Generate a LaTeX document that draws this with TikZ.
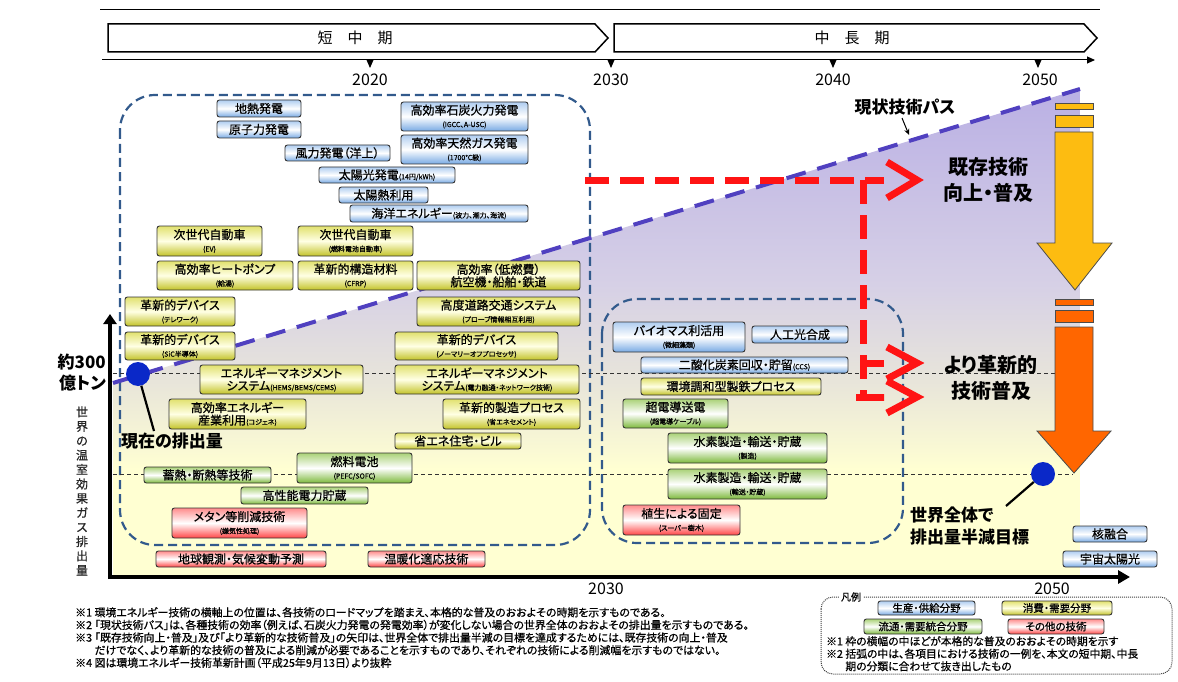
\documentclass[tikz,border=0pt]{standalone}
\usepackage{fontspec}
\setmainfont{Noto Sans CJK JP}[RawFeature=+palt]
\newfontfamily\boxfont{Noto Sans CJK JP}[RawFeature=+palt, FakeBold=0.7]
\usetikzlibrary{arrows.meta,calc}

\definecolor{rectblue}{RGB}{50,90,140}
\definecolor{pathpurple}{RGB}{80,64,192}
\definecolor{dotblue}{RGB}{10,40,200}
\definecolor{redarr}{RGB}{255,20,20}
\definecolor{yelarr}{RGB}{253,188,17}
\definecolor{orgarr}{RGB}{255,102,0}
\definecolor{cbT}{RGB}{175,205,240}
\definecolor{cbB}{RGB}{120,170,228}
\definecolor{cyT}{RGB}{225,225,110}
\definecolor{cyM}{RGB}{255,255,228}
\definecolor{cyB}{RGB}{195,195,40}
\definecolor{cgT}{RGB}{170,210,120}
\definecolor{cgB}{RGB}{125,185,60}
\definecolor{crT}{RGB}{255,140,140}
\definecolor{crB}{RGB}{255,70,70}
\definecolor{bgP}{RGB}{186,176,228}
\definecolor{bgL}{RGB}{214,208,230}
\definecolor{bgM}{RGB}{232,229,218}
\definecolor{bgY}{RGB}{255,255,210}

\pgfdeclareverticalshading{bgsh}{100bp}{color(0bp)=(bgY); color(25bp)=(bgY); color(36bp)=(bgY); color(45bp)=(bgM); color(55bp)=(bgL); color(75bp)=(bgP); color(100bp)=(bgP)}

\newcommand\subt[1]{{\fontsize{7}{7.5}\selectfont #1}}
\newcommand\techbox[7]{\node[#1, minimum width={#5-#3}, minimum height={#6-#4}] (#2) at ({(#3+#5)/2},{(#4+#6)/2}) {#7};}

\begin{document}
\begin{tikzpicture}[x=1pt,y=-1pt,
 bxbase/.style={draw=black!80, line width=0.9, rounded corners=2.5, inner sep=0pt, align=center, font=\boxfont\fontsize{12}{12.5}\selectfont},
 bxb/.style={bxbase, top color=cbT, bottom color=cbB, middle color=white},
 bxy/.style={bxbase, top color=cyT, bottom color=cyB, middle color=cyM},
 bxg/.style={bxbase, top color=cgT, bottom color=cgB, middle color=white},
 bxr/.style={bxbase, top color=crT, bottom color=crB, middle color=white},
 lgb/.style={font=\boxfont\fontsize{10.5}{11}\selectfont},
 dashrect/.style={draw=rectblue, line width=2.2, dash pattern=on 9 off 5, rounded corners=35},
 dashln/.style={draw=black!80, line width=1, dash pattern=on 4 off 3},
 reddash/.style={draw=redarr, line width=7, dash pattern=on 24 off 11},
 redchev/.style={draw=redarr, line width=7, line join=miter, miter limit=20},
 bigarr/.style={draw=black!70, line width=0.8},
 dotn/.style={circle, fill=dotblue, inner sep=0pt, minimum size=24},
 biglbl/.style={font=\bfseries\fontsize{20}{26}\selectfont, align=center},
 midlbl/.style={font=\bfseries\fontsize{17}{22}\selectfont},
 yearlbl/.style={font=\fontsize{16}{18}\selectfont},
 fnote/.style={font=\boxfont\fontsize{10.9}{12.6}\selectfont, align=left, inner sep=0pt},
]
\useasboundingbox (0,0) rectangle (1178,682);

% ---------- header ----------
\draw[line width=1] (100,10) -- (1100,10);
\draw[line width=1.5, fill=white] (108,24) -- (595,24) -- (608,38) -- (595,52) -- (108,52) -- cycle;
\draw[line width=1.5, fill=white] (614,24) -- (1084,24) -- (1097,38) -- (1084,52) -- (614,52) -- cycle;
\node[font=\fontsize{15}{16}\selectfont] (hshort) at (355,38) {短　中　期};
\node[font=\fontsize{15}{16}\selectfont] (hlong) at (852,38) {中　長　期};
\draw[line width=1, -{Triangle[length=8,width=7]}] (102,60) -- (1095,60);
\foreach \t in {370,611,833,1038} \fill (\t-3.5,60) -- (\t+3.5,60) -- (\t,68) -- cycle;
\node[yearlbl] (y2020) at (370,80) {2020};
\node[yearlbl] (y2030) at (611,80) {2030};
\node[yearlbl] (y2040) at (833,80) {2040};
\node[yearlbl] (y2050) at (1040,80) {2050};

% ---------- background ----------
\shade[shading=bgsh] (113,383) -- (1080,89) -- (1080,577) -- (113,577) -- cycle;

\draw[dashrect] (120,95) rectangle (590,545);
\draw[dashrect] (602,299) rectangle (903,543);

\draw[dashln] (113,373) -- (1055,373);
\draw[dashln] (113,474) -- (1073,474);

% current technology path
\draw[pathpurple, line width=4, dash pattern=on 20 off 12] (113,383) -- (1080,89);

% ---------- technology boxes ----------
\techbox{bxb}{geo}{217}{100}{301}{117}{地熱発電}
\techbox{bxb}{nuc}{217}{121}{301}{138}{原子力発電}
\techbox{bxb}{coal}{401}{102}{528}{131}{高効率石炭火力発電\\\subt{(IGCC、A-USC)}}
\techbox{bxb}{gas}{401}{135}{528}{164}{高効率天然ガス発電\\\subt{(1700℃級)}}
\techbox{bxb}{wind}{285}{145}{390}{161}{風力発電（洋上）}
\techbox{bxb}{pv}{319}{167}{455}{183}{太陽光発電\subt{(14円/kWh)}}
\techbox{bxb}{sth}{339}{187}{428}{203}{太陽熱利用}
\techbox{bxb}{ocean}{350}{205}{528}{222}{海洋エネルギー\subt{(波力、潮力、海流)}}

\techbox{bxy}{ev}{157}{226}{262}{256}{次世代自動車\\\subt{(EV)}}
\techbox{bxy}{fcv}{298}{226}{413}{256}{次世代自動車\\\subt{(燃料電池自動車)}}
\techbox{bxy}{hp}{157}{261}{293}{290}{高効率ヒートポンプ\\\subt{(給湯)}}
\techbox{bxy}{cfrp}{298}{261}{413}{290}{革新的構造材料\\\subt{(CFRP)}}
\techbox{bxy}{trans}{417}{261}{580}{290}{高効率（低燃費）\\航空機・船舶・鉄道}
\techbox{bxy}{tele}{125}{297}{235}{326}{革新的デバイス\\\subt{(テレワーク)}}
\techbox{bxy}{its}{417}{297}{580}{326}{高度道路交通システム\\\subt{(プローブ情報相互利用)}}
\techbox{bxy}{sic}{125}{332}{235}{360}{革新的デバイス\\\subt{(SiC半導体)}}
\techbox{bxy}{nop}{395}{332}{558}{360}{革新的デバイス\\\subt{(ノーマリーオフプロセッサ)}}
\techbox{bxy}{ems1}{200}{365}{363}{394}{エネルギーマネジメント\\システム\subt{(HEMS/BEMS/CEMS)}}
\techbox{bxy}{ems2}{395}{365}{579}{394}{エネルギーマネジメント\\システム\subt{(電力融通・ネットワーク技術)}}
\techbox{bxy}{cogen}{169}{399}{306}{429}{高効率エネルギー\\産業利用\subt{(コジェネ)}}
\techbox{bxy}{mfg}{443}{399}{580}{429}{革新的製造プロセス\\\subt{(省エネセメント)}}
\techbox{bxy}{house}{395}{433}{521}{449}{省エネ住宅・ビル}

\techbox{bxg}{fc}{297}{453}{412}{483}{燃料電池\\\subt{(PEFC/SOFC)}}
\techbox{bxg}{heat}{144}{467}{271}{483}{蓄熱・断熱等技術}
\techbox{bxg}{stor}{241}{487}{368}{504}{高性能電力貯蔵}

\techbox{bxr}{meth}{172}{508}{307}{538}{メタン等削減技術\\\subt{(嫌気性処理)}}
\techbox{bxr}{obs}{156}{551}{326}{567}{地球観測・気候変動予測}
\techbox{bxr}{adapt}{368}{551}{485}{567}{温暖化適応技術}

\techbox{bxb}{bio}{613}{322}{745}{352}{バイオマス利活用\\\subt{(微細藻類)}}
\techbox{bxb}{art}{752}{326}{848}{343}{人工光合成}
\techbox{bxb}{ccs}{641}{357}{848}{373}{二酸化炭素回収・貯留\subt{(CCS)}}
\techbox{bxy}{steel}{641}{378}{821}{395}{環境調和型製鉄プロセス}
\techbox{bxg}{sc}{623}{399}{728}{428}{超電導送電\\\subt{(超電導ケーブル)}}
\techbox{bxg}{h2a}{668}{433}{827}{463}{水素製造・輸送・貯蔵\\\subt{(製造)}}
\techbox{bxg}{h2b}{668}{469}{827}{499}{水素製造・輸送・貯蔵\\\subt{(輸送・貯蔵)}}
\techbox{bxr}{veg}{623}{505}{740}{535}{植生による固定\\\subt{(スーパー樹木)}}

\techbox{bxb}{fus}{1073}{526}{1147}{542}{核融合}
\techbox{bxb}{sps}{1063}{551}{1157}{567}{宇宙太陽光}

% ---------- red dashed arrows ----------
\coordinate (rA) at (585,180);
\coordinate (rB) at (884,180);
\coordinate (rV1) at (863,180);
\coordinate (rV2) at (863,397);
\coordinate (rC) at (884,363);
\coordinate (rD) at (856,397);
\coordinate (rE) at (884,397);
\draw[reddash] (rA) -- (rB);
\draw[reddash] (rV1) -- (rV2);
\draw[reddash, dash pattern=on 22 off 0] (rV1 |- rC) -- (rC);
\draw[reddash, dash pattern=on 28 off 0] (rD) -- (rE);
\draw[redchev] (887,162) -- (917,180) -- (887,198);
\draw[redchev] (887,347) -- (917,363) -- (887,379);
\draw[redchev] (887,381) -- (917,397) -- (887,413);

% ---------- big arrows ----------
\filldraw[bigarr, fill=yelarr] (1055,103) rectangle (1093,109);
\filldraw[bigarr, fill=yelarr] (1055,115) rectangle (1093,127);
\filldraw[bigarr, fill=yelarr] (1055,132) -- (1093,132) -- (1093,243) -- (1112,243) -- (1075,290) -- (1037,243) -- (1055,243) -- cycle;
\filldraw[bigarr, fill=orgarr] (1055,299) rectangle (1093,305);
\filldraw[bigarr, fill=orgarr] (1055,310) rectangle (1093,322);
\filldraw[bigarr, fill=orgarr] (1055,327) -- (1093,327) -- (1093,431) -- (1111,431) -- (1074,473) -- (1037,431) -- (1055,431) -- cycle;

% ---------- axes ----------
\draw[line width=4, -{Triangle[length=10,width=13]}] (110,579) -- (110,314);
\draw[line width=4, -{Triangle[length=12,width=13]}] (108,577) -- (1130,577);
\node[yearlbl] (b2030) at (606,589) {2030};
\node[yearlbl] (b2050) at (1052,589) {2050};

% ---------- dots and labels ----------
\node[dotn] (d1) at (138,374) {};
\node[dotn] (d2) at (1043,474) {};

\node[font=\bfseries\fontsize{17}{21}\selectfont, align=right, anchor=east, inner sep=0pt] (l300) at (106,373) {約300\\億トン};
\node[midlbl, anchor=west, inner sep=0pt] (lnow) at (121,441) {現在の排出量};
\coordinate (lnowc) at (154,431);
\draw[line width=2.2] (d1) -- (lnowc);

\node[align=left, anchor=west, inner sep=0pt, font=\bfseries\fontsize{17}{22}\selectfont] (lgoal) at (910,526) {世界全体で\\排出量半減目標};
\coordinate (lgoalc) at (1006,506);
\draw[line width=2.2] (d2) -- (lgoalc);

\node[font=\boxfont\fontsize{12}{14.4}\selectfont, align=center, text=black!85, inner sep=0pt] (vax) at (82,491) {世\\界\\の\\温\\室\\効\\果\\ガ\\ス\\排\\出\\量};

\node[midlbl, inner sep=0pt] (lpath) at (905,107) {現状技術パス};
\coordinate (lpathc) at (909,135);
\draw[line width=1, -{Stealth[length=6,width=5]}] (902,118) -- (lpathc);

\node[biglbl] (lexist) at (988,180) {既存技術\\向上・普及};
\node[biglbl] (linnov) at (991,378) {より革新的\\技術普及};

% ---------- footnotes ----------
\node[fnote, anchor=north west] (fn) at (75,607) {※1\ 環境エネルギー技術の横軸上の位置は、各技術のロードマップを踏まえ、本格的な普及のおおよその時期を示すものである。\\
※2\ 「現状技術パス」は、各種技術の効率（例えば、石炭火力発電の発電効率）が変化しない場合の世界全体のおおよその排出量を示すものである。\\
※3\ 「既存技術向上・普及」及び「より革新的な技術普及」の矢印は、世界全体で排出量半減の目標を達成するためには、既存技術の向上・普及\\
\phantom{※3\ }だけでなく、より革新的な技術の普及による削減が必要であることを示すものであり、それぞれの技術による削減幅を示すものではない。\\
※4\ 図は環境エネルギー技術革新計画（平成25年9月13日）より抜粋};

% ---------- legend ----------
\draw[densely dotted, line width=1, rounded corners=12, black!75] (821,597) rectangle (1172,674);
\node[font=\boxfont\fontsize{10}{11}\selectfont, fill=white, inner sep=2pt] (lgt) at (851,597) {凡例};
\techbox{bxb, lgb}{lg1}{878}{601}{975}{615}{生産・供給分野}
\techbox{bxy, lgb}{lg2}{1002}{601}{1112}{615}{消費・需要分野}
\techbox{bxg, lgb}{lg3}{864}{619}{982}{634}{流通・需要統合分野}
\techbox{bxr, lgb}{lg4}{1008}{619}{1104}{634}{その他の技術}
\node[font=\boxfont\fontsize{10.8}{12.5}\selectfont, align=left, anchor=north west, inner sep=0pt] (lgn) at (826,636) {※1\ 枠の横幅の中ほどが本格的な普及のおおよその時期を示す\\
※2\ 括弧の中は、各項目における技術の一例を、本文の短中期、中長\\
\phantom{※2\ }期の分類に合わせて抜き出したもの};
\end{tikzpicture}
\end{document}
